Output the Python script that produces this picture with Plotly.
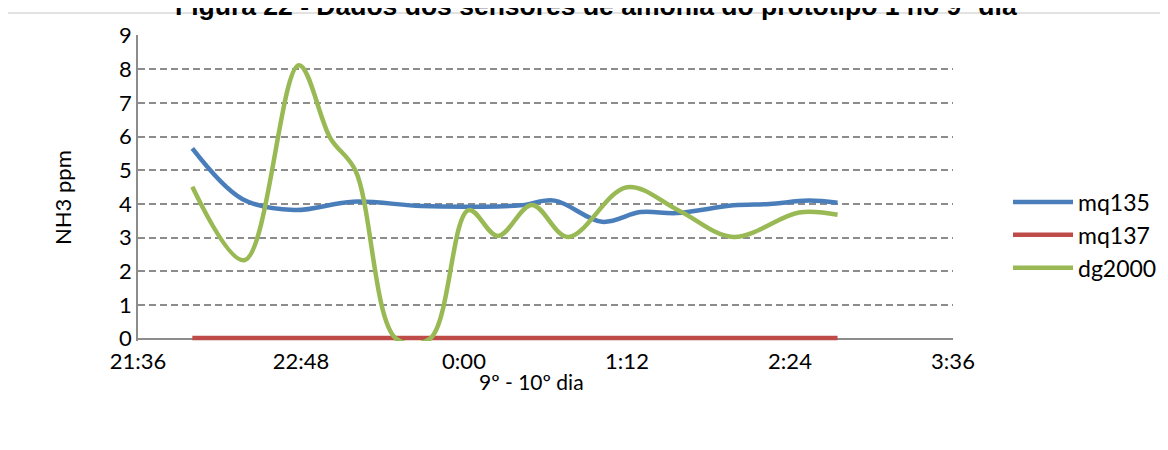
import plotly.graph_objects as go
from datetime import datetime

# ---- data ----
mq135_times = ["22:00", "22:22", "22:45", "23:11", "23:41", "0:07", "0:25", "0:40",
               "1:01", "1:18", "1:34", "1:59", "2:15", "2:32", "2:45"]
mq135_vals = [5.65, 4.15, 3.82, 4.07, 3.94, 3.92, 3.96, 4.10,
              3.47, 3.76, 3.73, 3.96, 4.00, 4.10, 4.04]

mq137_times = ["22:00", "23:00", "0:00", "1:00", "2:00", "2:45"]
mq137_vals = [0.02, 0.02, 0.02, 0.02, 0.02, 0.02]

dg2000_times = ["22:00", "22:23", "22:47", "23:01", "23:12", "23:30", "23:45", "0:02",
                "0:15", "0:30", "0:46", "1:12", "1:35", "1:59", "2:28", "2:45"]
dg2000_vals = [4.51, 2.33, 8.12, 5.95, 5.00, 0.0, 0.0, 3.82,
               3.05, 3.97, 3.02, 4.50, 3.80, 3.02, 3.75, 3.68]

x_tick_labels = ["21:36", "22:48", "0:00", "1:12", "2:24", "3:36"]
y_tick_vals = [0, 1, 2, 3, 4, 5, 6, 7, 8, 9]

title_text = "Figura 22 - Dados dos sensores de amônia do protótipo 1 no 9º dia"
x_title = "9º - 10º dia"
y_title = "NH3 ppm"


def to_dt(t):
    h, m = map(int, t.split(":"))
    day = 2 if h < 12 else 1
    return datetime(2020, 1, day, h, m)


tick_dts = [to_dt(t) for t in x_tick_labels]

fig = go.Figure()
series = [
    ("mq135", mq135_times, mq135_vals, "#4A7EBB"),
    ("mq137", mq137_times, mq137_vals, "#BE4B48"),
    ("dg2000", dg2000_times, dg2000_vals, "#98B954"),
]
for name, ts, vs, col in series:
    fig.add_trace(go.Scatter(
        x=[to_dt(t) for t in ts], y=vs, name=name, mode="lines",
        line=dict(color=col, width=4.5, shape="spline", smoothing=1.0),
        legendgroup=name,
    ))

# the page adds an 8px body offset; plot area in page px: x 138..953, y 35..341
OFF = 8
PL, PR, PT, PB = 138, 953, 35, 341
PW, PH = PR - PL, PB - PT


def px(x):
    return (x - PL) / PW


def py(y):
    return (PB - y) / PH


FONT = "Lato"
fig.update_layout(
    width=1168, height=450,
    margin=dict(l=PL - OFF, r=1168 - (PR - OFF), t=PT - OFF, b=450 - (PB - OFF)),
    paper_bgcolor="white", plot_bgcolor="white",
    font=dict(family=FONT, color="#000000", size=22),
    showlegend=True,
    legend=dict(x=px(1008), y=py(235), xanchor="left", yanchor="middle",
                font=dict(family=FONT, size=23, color="#000"),
                tracegroupgap=0, itemwidth=60, bgcolor="rgba(0,0,0,0)"),
    xaxis=dict(
        type="date", range=[tick_dts[0], tick_dts[-1]],
        tickmode="array", tickvals=tick_dts, ticktext=x_tick_labels,
        showgrid=False, showline=False, zeroline=False, ticks="",
        ticklabelstandoff=5,
        tickfont=dict(family=FONT, size=22, color="#000"),
    ),
    yaxis=dict(
        range=[-0.07, 9.02], tickmode="array", tickvals=y_tick_vals,
        showgrid=True, gridcolor="#8C8C8C", gridwidth=1.5, griddash="7px,4px",
        zeroline=True, zerolinecolor="#8C8C8C", zerolinewidth=1.5,
        showline=True, linecolor="#8C8C8C", linewidth=1.5, ticks="",
        tickfont=dict(family=FONT, size=22, color="#000"),
        layer="below traces",
    ),
    shapes=[dict(type="rect", xref="paper", yref="paper",
                 x0=px(7), x1=px(1190), y0=py(470), y1=py(13),
                 line=dict(color="#D9D9D9", width=1.5), layer="below")],
    annotations=[
        dict(text="<b>" + title_text + "</b>", xref="paper", yref="paper",
             x=px(596), y=py(23), xanchor="center", yanchor="bottom", showarrow=False,
             font=dict(family="Liberation Sans", size=26.5, color="#000")),
        dict(text=y_title, xref="paper", yref="paper", x=px(62), y=py(198),
             xanchor="center", yanchor="middle", textangle=-90, showarrow=False,
             font=dict(family=FONT, size=22, color="#000")),
        dict(text=x_title, xref="paper", yref="paper", x=px(531), y=py(381),
             xanchor="center", yanchor="middle", showarrow=False,
             font=dict(family=FONT, size=21, color="#000")),
    ],
)

fig.write_html("out.html")
